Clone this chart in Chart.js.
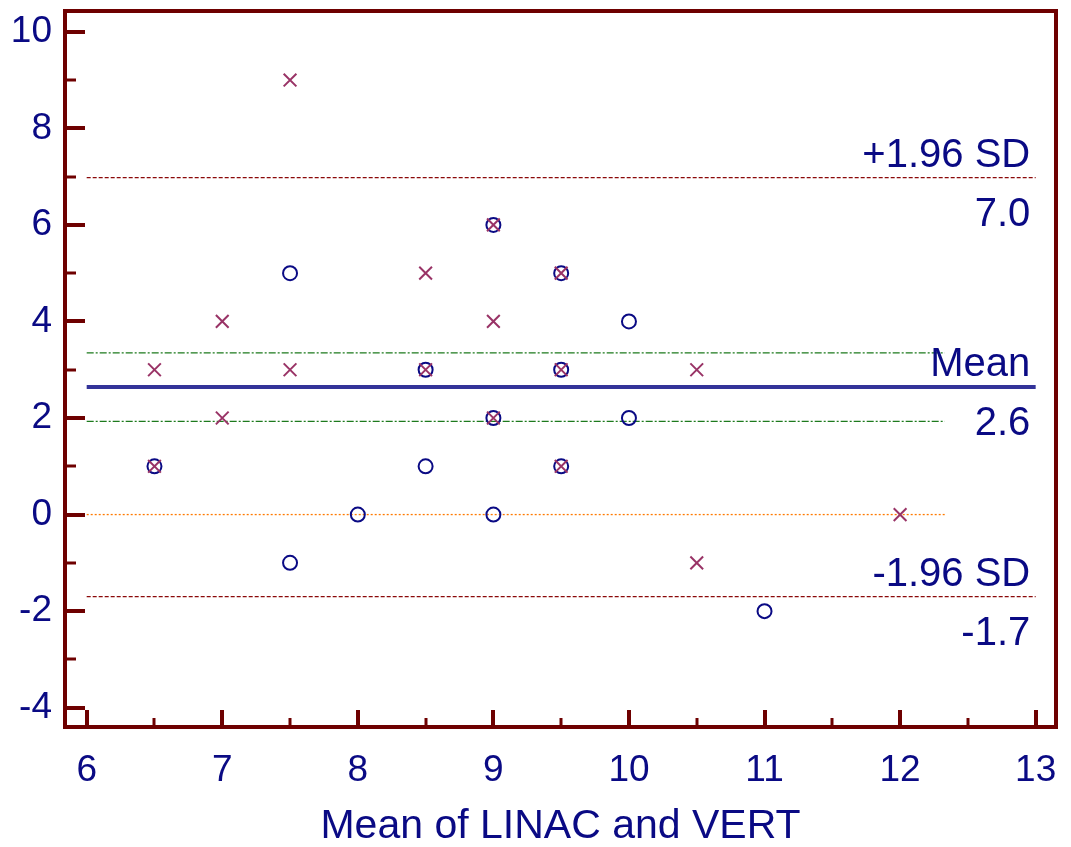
<!DOCTYPE html>
<html>
<head>
<meta charset="utf-8">
<script src="https://cdn.jsdelivr.net/npm/chart.js@4.4.1/dist/chart.umd.min.js"></script>
<style>
  body { margin: 0; background: #fff; }
  #wrap { width: 1071px; height: 847px; }
</style>
</head>
<body>
<div id="wrap"><canvas id="baChart" width="1071" height="847"></canvas></div>
<script>
// Bland-Altman: differences plotted against the mean of LINAC and VERT
const circleX = [6.5, 7.5, 7.5, 8, 8.5, 8.5, 9, 9, 9, 9.5, 9.5, 9.5, 10, 10, 11];
const circleY = [1, 5, -1, 0, 3, 1, 6, 2, 0, 5, 3, 1, 4, 2, -2];
const crossX = [6.5, 6.5, 7, 7, 7.5, 7.5, 8.5, 8.5, 9, 9, 9, 9.5, 9.5, 9.5, 10.5, 10.5, 12];
const crossY = [3, 1, 4, 2, 9, 3, 5, 3, 6, 4, 2, 5, 3, 1, 3, -1, 0];

const meanDiff = 2.64;
const upperLimit = 6.98;
const lowerLimit = -1.70;
const meanCI = [1.93, 3.35];
const lineStart = 6;
const lineEnd = 13;
const shortLineEnd = 12.33;

const xTicks = [6, 7, 8, 9, 10, 11, 12, 13];
const yTicks = [-4, -2, 0, 2, 4, 6, 8, 10];

const navy = '#0a0a84';
const frameColor = '#6e0000';
const crossColor = '#993366';
const fontFamily = '"Liberation Sans", Arial, sans-serif';

const toPoints = (xs, ys) => xs.map((x, i) => ({ x: x, y: ys[i] }));
const hLine = (y, x1, x2) => [{ x: x1, y: y }, { x: x2, y: y }];

// frame, inward tick marks and the limit labels
const framePlugin = {
    id: 'frame',
    afterDatasetsDraw(chart) {
        const ctx = chart.ctx;
        const a = chart.chartArea;
        const xs = chart.scales.x;
        const ys = chart.scales.y;
        ctx.save();
        ctx.strokeStyle = frameColor;
        ctx.lineCap = 'butt';

        // y ticks (major every 2, minor in between)
        for (let v = -4; v <= 10; v++) {
            const py = Math.round(ys.getPixelForValue(v));
            const major = v % 2 === 0;
            ctx.lineWidth = major ? 4 : 3;
            ctx.beginPath();
            ctx.moveTo(a.left, py);
            ctx.lineTo(a.left + (major ? 20 : 11), py);
            ctx.stroke();
        }
        // x ticks (major at integers, minor at halves)
        for (let v = 6; v <= 13; v += 0.5) {
            const px = Math.round(xs.getPixelForValue(v));
            const major = Number.isInteger(v);
            ctx.lineWidth = major ? 4 : 3;
            ctx.beginPath();
            ctx.moveTo(px, a.bottom);
            ctx.lineTo(px, a.bottom - (major ? 17 : 9));
            ctx.stroke();
        }
        ctx.lineWidth = 4;
        ctx.strokeRect(a.left, a.top, a.right - a.left, a.bottom - a.top);

        // limit labels: name above the line, value below it
        ctx.fillStyle = navy;
        ctx.font = '40px ' + fontFamily;
        ctx.textAlign = 'right';
        ctx.textBaseline = 'alphabetic';
        const tx = xs.getPixelForValue(12.96);
        const label = (name, value) => {
            const py = ys.getPixelForValue(value);
            ctx.fillText(name, tx, py - 11);
            ctx.fillText(value.toFixed(1), tx, py + 48);
        };
        label('+1.96 SD', upperLimit);
        label('Mean', meanDiff);
        label('-1.96 SD', lowerLimit);
        ctx.restore();
    }
};

const ctx = document.getElementById('baChart').getContext('2d');
const chart = new Chart(ctx, {
    type: 'scatter',
    data: {
        datasets: [
            { label: 'VERT', data: toPoints(crossX, crossY), pointStyle: 'crossRot', pointRadius: 9,
              borderColor: crossColor, borderWidth: 2, order: 1 },
            { label: 'LINAC', data: toPoints(circleX, circleY), pointStyle: 'circle', pointRadius: 7,
              borderColor: navy, backgroundColor: 'rgba(0,0,0,0)', borderWidth: 2, order: 2 },
            { type: 'line', label: '+1.96 SD', data: hLine(upperLimit, lineStart, lineEnd),
              borderColor: '#8b0a0a', borderWidth: 1.3, borderDash: [4, 2], pointRadius: 0, order: 3 },
            { type: 'line', label: '-1.96 SD', data: hLine(lowerLimit, lineStart, lineEnd),
              borderColor: '#8b0a0a', borderWidth: 1.3, borderDash: [4, 2], pointRadius: 0, order: 3 },
            { type: 'line', label: 'Mean', data: hLine(meanDiff, lineStart, lineEnd),
              borderColor: '#333399', borderWidth: 4, pointRadius: 0, order: 3 },
            { type: 'line', label: 'CI upper', data: hLine(meanCI[1], lineStart, shortLineEnd),
              borderColor: '#1d7a1d', borderWidth: 1.3, borderDash: [7, 2, 2, 2], pointRadius: 0, order: 3 },
            { type: 'line', label: 'CI lower', data: hLine(meanCI[0], lineStart, shortLineEnd),
              borderColor: '#1d7a1d', borderWidth: 1.3, borderDash: [7, 2, 2, 2], pointRadius: 0, order: 3 },
            { type: 'line', label: 'Zero', data: hLine(0, lineStart, shortLineEnd),
              borderColor: '#ff7a00', borderWidth: 1.3, borderDash: [2, 2], pointRadius: 0, order: 3 }
        ]
    },
    options: {
        responsive: false,
        animation: false,
        layout: { padding: { top: 10, right: 15, left: 0, bottom: 0 } },
        plugins: { legend: { display: false }, tooltip: { enabled: false } },
        scales: {
            x: {
                type: 'linear',
                min: 5.84,
                max: 13.15,
                grid: { display: false, drawTicks: false },
                border: { display: false },
                afterBuildTicks: (scale) => { scale.ticks = xTicks.map(v => ({ value: v })); },
                afterFit: (scale) => {
                    scale.height = 120;
                    scale.paddingLeft = 0;
                    scale.paddingRight = 0;
                },
                ticks: { color: navy, padding: 22, maxRotation: 0,
                         font: { family: fontFamily, size: 37 } },
                title: { display: true, text: 'Mean of LINAC and VERT', color: navy,
                         padding: 0,
                         font: { family: fontFamily, size: 41, lineHeight: 1 } }
            },
            y: {
                min: -4.40,
                max: 10.43,
                grid: { display: false, drawTicks: false },
                border: { display: false },
                afterBuildTicks: (scale) => { scale.ticks = yTicks.map(v => ({ value: v })); },
                afterFit: (scale) => {
                    scale.width = 65;
                    scale.paddingTop = 0;
                    scale.paddingBottom = 0;
                },
                ticks: { color: navy, padding: 13,
                         font: { family: fontFamily, size: 37 } }
            }
        }
    },
    plugins: [framePlugin]
});
</script>
</body>
</html>
